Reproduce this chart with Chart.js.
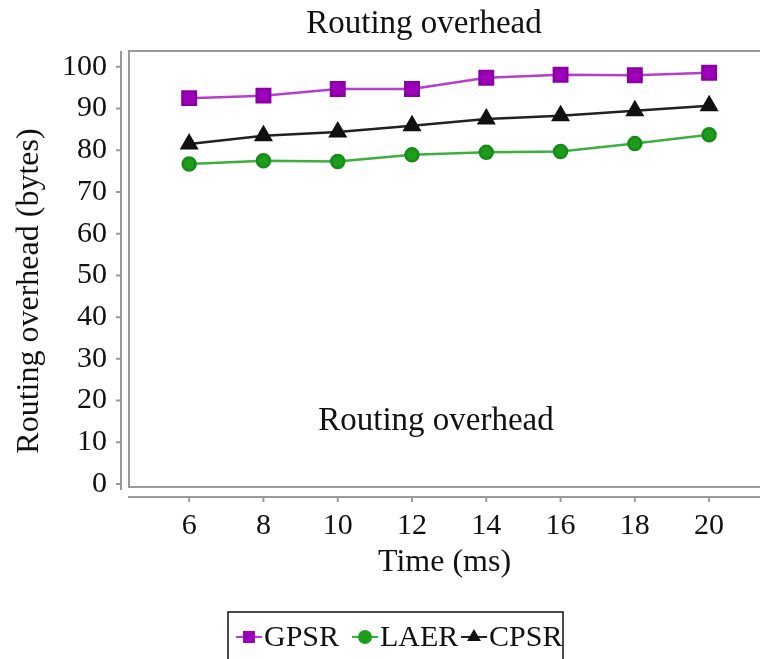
<!DOCTYPE html>
<html>
<head>
<meta charset="utf-8">
<script src="https://cdn.jsdelivr.net/npm/chart.js@4.4.0/dist/chart.umd.min.js"></script>
<style>
  html, body { margin: 0; padding: 0; background: #fff; }
</style>
</head>
<body>
<canvas id="overheadChart" width="760" height="659"></canvas>
<script>
// values
const timeMs = [6, 8, 10, 12, 14, 16, 18, 20];
const gpsrValues = [92.5, 93.1, 94.7, 94.7, 97.4, 98.1, 98.0, 98.6];
const laerValues = [76.7, 77.5, 77.3, 78.9, 79.5, 79.7, 81.6, 83.7];
const cpsrValues = [81.5, 83.5, 84.4, 85.9, 87.5, 88.3, 89.5, 90.7];
const xTickValues = [6, 8, 10, 12, 14, 16, 18, 20];
const yTickValues = [0, 10, 20, 30, 40, 50, 60, 70, 80, 90, 100];
const seriesNames = ['GPSR', 'LAER', 'CPSR'];

const serif = '"Liberation Serif", "Times New Roman", serif';

function toPoints(values) {
    return timeMs.map(function (t, i) { return { x: t, y: values[i] }; });
}

// frame, offset axes, titles and the boxed legend
const decorPlugin = {
    id: 'decor',
    beforeDatasetsDraw: function (chart) {
        const ctx = chart.ctx;
        const a = chart.chartArea;
        const xs = chart.scales.x;
        const ys = chart.scales.y;
        ctx.save();
        ctx.strokeStyle = '#9a9a9a';
        ctx.lineWidth = 2;
        // plot frame (top, left, bottom)
        ctx.beginPath();
        ctx.moveTo(a.right, a.top);
        ctx.lineTo(a.left, a.top);
        ctx.lineTo(a.left, a.bottom);
        ctx.lineTo(a.right, a.bottom);
        ctx.stroke();
        // offset x axis
        const axY = a.bottom + 10;
        ctx.beginPath();
        ctx.moveTo(a.left - 1, axY);
        ctx.lineTo(a.right, axY);
        xTickValues.forEach(function (v) {
            const px = xs.getPixelForValue(v);
            ctx.moveTo(px, axY);
            ctx.lineTo(px, axY + 5);
        });
        ctx.stroke();
        // offset y axis
        const axX = a.left - 8;
        ctx.beginPath();
        ctx.moveTo(axX, a.top);
        ctx.lineTo(axX, a.bottom + 3);
        yTickValues.forEach(function (v) {
            const py = ys.getPixelForValue(v);
            ctx.moveTo(axX, py);
            ctx.lineTo(axX - 5, py);
        });
        ctx.stroke();
        ctx.restore();
    },
    afterDraw: function (chart) {
        const ctx = chart.ctx;
        ctx.save();
        ctx.fillStyle = '#111';
        ctx.textAlign = 'center';
        ctx.textBaseline = 'alphabetic';
        ctx.font = '33px ' + serif;
        ctx.fillText('Routing overhead', 424, 33);
        ctx.fillText('Routing overhead', 436, 430);
        // y axis title
        ctx.save();
        ctx.font = '32px ' + serif;
        ctx.translate(30, 291);
        ctx.rotate(-Math.PI / 2);
        ctx.textBaseline = 'middle';
        ctx.fillText('Routing overhead (bytes)', 0, 0);
        ctx.restore();

        // legend box
        ctx.strokeStyle = '#111';
        ctx.lineWidth = 1.5;
        ctx.strokeRect(228, 612, 335, 60);
        ctx.font = '30px ' + serif;
        ctx.textAlign = 'left';
        ctx.textBaseline = 'middle';
        const ly = 637;
        const starts = [236, 352, 461];
        chart.data.datasets.forEach(function (ds, i) {
            const x0 = starts[i];
            ctx.strokeStyle = ds.borderColor;
            ctx.lineWidth = 2;
            ctx.beginPath();
            ctx.moveTo(x0, ly);
            ctx.lineTo(x0 + 26, ly);
            ctx.stroke();
            ctx.fillStyle = ds.pointBackgroundColor;
            ctx.strokeStyle = ds.pointBackgroundColor;
            Chart.helpers.drawPoint(ctx, {
                pointStyle: ds.pointStyle,
                radius: ds.pointStyle === 'rect' ? 7 : 6,
                rotation: 0,
                borderWidth: 1
            }, x0 + 13, ly);
            ctx.fillStyle = '#111';
            ctx.fillText(ds.label, x0 + 28, ly + 1);
        });
        ctx.restore();
    }
};

const ctx = document.getElementById('overheadChart').getContext('2d');
new Chart(ctx, {
    type: 'line',
    data: {
        datasets: [{
            label: seriesNames[0],
            data: toPoints(gpsrValues),
            borderColor: '#b53fcb',
            pointBackgroundColor: '#9c00b8',
            pointBorderColor: '#8a00a4',
            pointStyle: 'rect',
            pointRadius: 9.5,
            borderWidth: 2.5
        }, {
            label: seriesNames[1],
            data: toPoints(laerValues),
            borderColor: '#3caf3c',
            pointBackgroundColor: '#1c9e1c',
            pointBorderColor: '#178a17',
            pointStyle: 'circle',
            pointRadius: 6.5,
            borderWidth: 2.5
        }, {
            label: seriesNames[2],
            data: toPoints(cpsrValues),
            borderColor: '#222',
            pointBackgroundColor: '#111',
            pointBorderColor: '#111',
            pointStyle: 'triangle',
            pointRadius: 8.5,
            borderWidth: 2.5
        }]
    },
    options: {
        responsive: false,
        animation: false,
        layout: { autoPadding: false, padding: { top: 51, left: 0, right: 0, bottom: 72 } },
        plugins: {
            legend: { display: false },
            title: { display: false },
            tooltip: { enabled: false }
        },
        scales: {
            x: {
                type: 'linear',
                min: 4.38,
                max: 21.37,
                afterBuildTicks: function (s) {
                    s.ticks = xTickValues.map(function (v) { return { value: v }; });
                },
                afterFit: function (s) { s.height = 100; },
                grid: { display: false, drawTicks: false },
                border: { display: false },
                ticks: {
                    autoSkip: false,
                    maxRotation: 0,
                    padding: 21,
                    color: '#111',
                    font: { family: serif, size: 30 }
                },
                title: {
                    display: true,
                    text: 'Time (ms)',
                    color: '#111',
                    font: { family: serif, size: 32 },
                    padding: { top: 0, bottom: 5 }
                }
            },
            y: {
                min: -0.72,
                max: 103.8,
                afterBuildTicks: function (s) {
                    s.ticks = yTickValues.map(function (v) { return { value: v }; });
                },
                afterFit: function (s) { s.width = 129; },
                grid: { display: false, drawTicks: false },
                border: { display: false },
                ticks: {
                    autoSkip: false,
                    padding: 22,
                    color: '#111',
                    font: { family: serif, size: 30 }
                }
            }
        }
    },
    plugins: [decorPlugin]
});
</script>
</body>
</html>
